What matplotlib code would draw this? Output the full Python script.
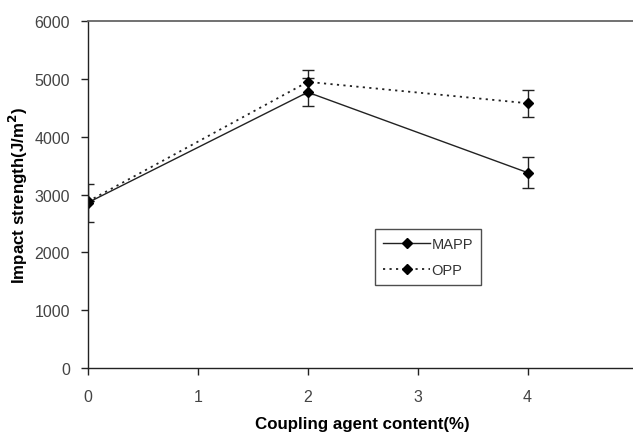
import matplotlib
matplotlib.use("Agg")
import matplotlib.pyplot as plt
from matplotlib.lines import Line2D

content = [0, 2, 4]
mapp = [2860, 4770, 3380]
mapp_err = [330, 240, 270]
opp = [2880, 4950, 4580]
opp_err = [0, 210, 235]

xticks = [0, 1, 2, 3, 4, 5]
yticks = [0, 1000, 2000, 3000, 4000, 5000, 6000]

plt.rcParams['font.family'] = ['Liberation Sans', 'DejaVu Sans']

fig = plt.figure(figsize=(6.33, 4.35), dpi=100)
ax = fig.add_axes([0.139, 0.152, 0.868, 0.797])

solid_ls = '-'
dot_ls = (0, (1.2, 2.4))
ax.errorbar(content, mapp, yerr=mapp_err, color='#222222', lw=1.0, ls=solid_ls,
            marker='D', ms=5, mfc='black', mec='black', capsize=4, elinewidth=1.0,
            capthick=1.0)
ax.errorbar(content, opp, yerr=opp_err, color='#222222', lw=1.3, ls=dot_ls,
            marker='D', ms=5, mfc='black', mec='black', capsize=4, elinewidth=1.0,
            capthick=1.0)

ax.set_xlim(0, 5)
ax.set_ylim(0, 6000)
ax.set_xticks(xticks)
ax.set_yticks(yticks)
ax.tick_params(direction='out', length=5, width=1, colors='#222222', labelsize=11.5)
ax.tick_params(axis='y', pad=8)
ax.tick_params(axis='x', pad=10)
for lbl in ax.get_xticklabels() + ax.get_yticklabels():
    lbl.set_color('#444444')
for s in ['left', 'bottom']:
    ax.spines[s].set_color('#222222')
    ax.spines[s].set_linewidth(1.0)
ax.spines['top'].set_color('#666666')
ax.spines['top'].set_linewidth(1.3)
ax.spines['right'].set_visible(False)

ax.set_xlabel('Coupling agent content(%)', fontsize=12.2, fontweight='bold', labelpad=9)
ax.set_ylabel('Impact strength(J/m$^\\mathbf{2}$)', fontsize=12.2, fontweight='bold', labelpad=3)

handles = [Line2D([], [], color='#222222', lw=1.0, ls=solid_ls, marker='D', ms=5,
                  mfc='black', mec='black'),
           Line2D([], [], color='#222222', lw=1.3, ls=dot_ls, marker='D', ms=5,
                  mfc='black', mec='black')]
leg = ax.legend(handles, ['MAPP', 'OPP'], loc='upper left', bbox_to_anchor=(0.523, 0.40),
                borderaxespad=0, frameon=True, fancybox=False,
                edgecolor='#222222', fontsize=10.5, handlelength=3.2, borderpad=0.55,
                labelspacing=0.8, handletextpad=0.1)
leg.get_frame().set_linewidth(1.0)
for t in leg.get_texts():
    t.set_color('#333333')

fig.savefig('out.png', dpi=100)
